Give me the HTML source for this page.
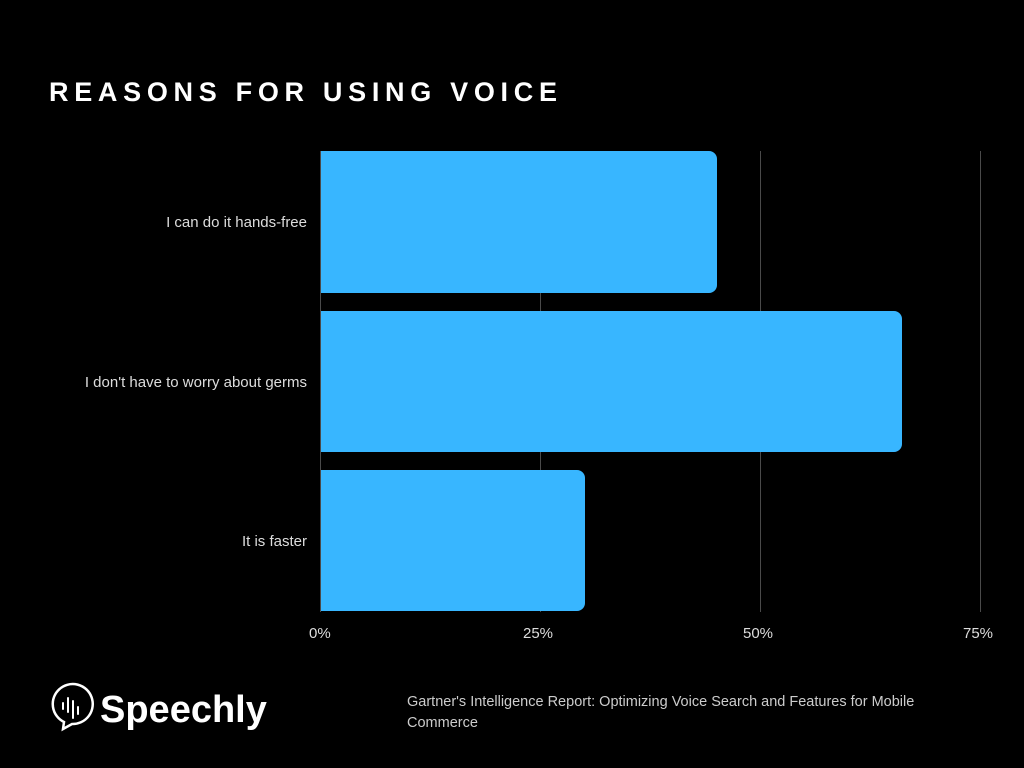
<!DOCTYPE html>
<html><head><style>
body{margin:0;background:#000;width:1024px;height:768px;overflow:hidden;position:relative;font-family:"Liberation Sans",sans-serif;color:#fff}
.t{position:absolute;left:49px;top:77px;font-size:27px;font-weight:bold;letter-spacing:5.7px}
.l{position:absolute;font-size:15px;color:#ddd;text-align:right;right:717px}
.x{position:absolute;top:625px;font-size:15px;color:#ddd}
.src{position:absolute;left:407px;top:692px;font-size:14.5px;color:#ccc;line-height:21px;width:565px}
</style></head><body>
<div class="t">REASONS FOR USING VOICE</div>
<svg width="1024" height="768" style="position:absolute;left:0;top:0">
<g stroke="#4a4a4a" stroke-width="1">
<line x1="540.5" y1="151" x2="540.5" y2="612"/><line x1="760.5" y1="151" x2="760.5" y2="612"/><line x1="980.5" y1="151" x2="980.5" y2="612"/>
<line x1="320.5" y1="151" x2="320.5" y2="612"/></g>
<g fill="#38b6ff">
<path d="M321 151H709a8 8 0 0 1 8 8V285a8 8 0 0 1-8 8H321Z"/>
<path d="M321 311H894a8 8 0 0 1 8 8V444a8 8 0 0 1-8 8H321Z"/>
<path d="M321 470H577a8 8 0 0 1 8 8V603a8 8 0 0 1-8 8H321Z"/>
</g>
<g fill="none" stroke="#fff" stroke-width="2.5">
<path d="M72 724 A20 20 0 1 0 64 722 L63 729 Z"/>
</g>
<g stroke="#fff" stroke-width="2" stroke-linecap="round">
<line x1="63" y1="703" x2="63" y2="709"/><line x1="68" y1="698" x2="68" y2="712"/><line x1="73" y1="701" x2="73" y2="718"/><line x1="78" y1="707" x2="78" y2="714"/>
</g>
<text x="100" y="722" fill="#fff" font-family="Liberation Sans" font-weight="bold" font-size="38">Speechly</text>
</svg>
<div class="l" style="top:214px">I can do it hands-free</div>
<div class="l" style="top:374px">I don't have to worry about germs</div>
<div class="l" style="top:533px">It is faster</div>
<div class="x" style="left:309px">0%</div>
<div class="x" style="left:523px">25%</div>
<div class="x" style="left:743px">50%</div>
<div class="x" style="left:963px">75%</div>
<div class="src">Gartner's Intelligence Report: Optimizing Voice Search and Features for Mobile Commerce</div>
</body></html>
